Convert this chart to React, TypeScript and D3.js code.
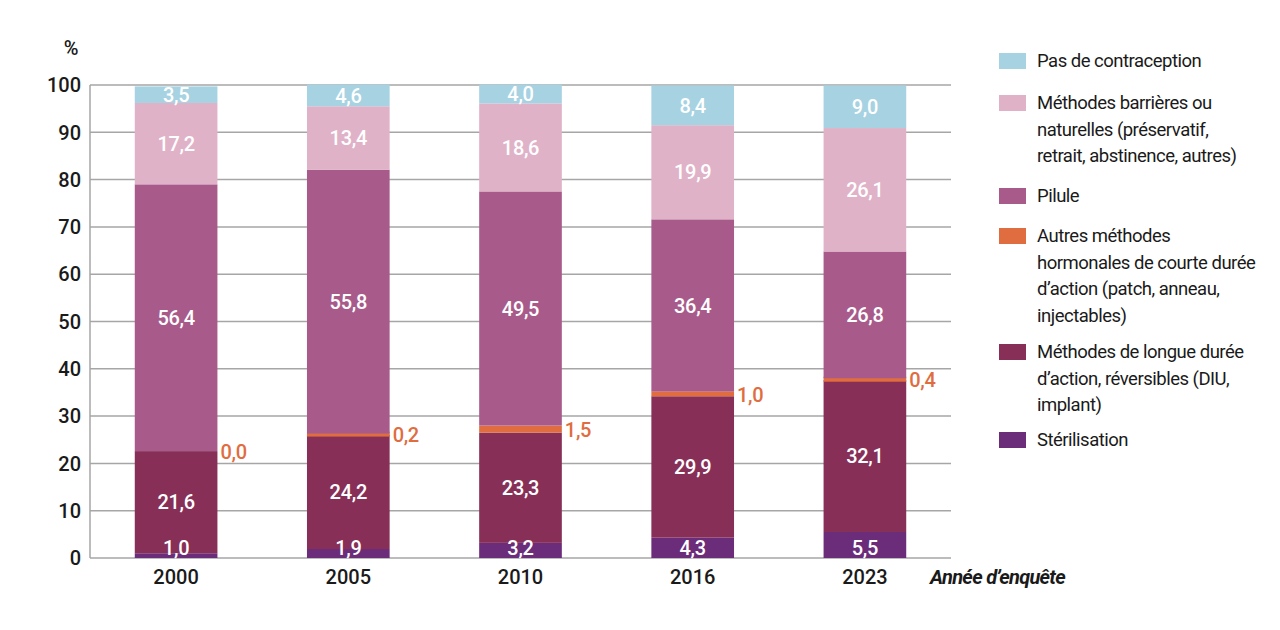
import { useRef, useEffect } from 'react';
import * as d3 from 'd3';

const YEARS = ['2000', '2005', '2010', '2016', '2023'];

// bottom to top
const STERILISATION = [1.0, 1.9, 3.2, 4.3, 5.5];
const LONGUE_DUREE = [21.6, 24.2, 23.3, 29.9, 32.1];
const AUTRES_HORMONALES = [0.0, 0.2, 1.5, 1.0, 0.4];
const PILULE = [56.4, 55.8, 49.5, 36.4, 26.8];
const BARRIERES = [17.2, 13.4, 18.6, 19.9, 26.1];
const PAS_CONTRACEPTION = [3.5, 4.6, 4.0, 8.4, 9.0];

const Y_TICKS = [0, 10, 20, 30, 40, 50, 60, 70, 80, 90, 100];

const SERIES = [
  { key: 'ster', label: ['Stérilisation'], values: STERILISATION, color: '#6b2c7a' },
  {
    key: 'larc',
    label: ['Méthodes de longue durée', 'd’action, réversibles (DIU,', 'implant)'],
    values: LONGUE_DUREE,
    color: '#872f56',
  },
  {
    key: 'autres',
    label: ['Autres méthodes', 'hormonales de courte durée', 'd’action (patch, anneau,', 'injectables)'],
    values: AUTRES_HORMONALES,
    color: '#e06d3f',
  },
  { key: 'pilule', label: ['Pilule'], values: PILULE, color: '#a85b8a' },
  {
    key: 'barr',
    label: ['Méthodes barrières ou', 'naturelles (préservatif,', 'retrait, abstinence, autres)'],
    values: BARRIERES,
    color: '#e0b2c8',
  },
  { key: 'pas', label: ['Pas de contraception'], values: PAS_CONTRACEPTION, color: '#a7d2e2' },
];

const FONT = 'Roboto, "Noto Sans", sans-serif';
const fmt = (v: number) => v.toFixed(1).replace('.', ',');

export default function App() {
  const svgRef = useRef<SVGSVGElement>(null);

  useEffect(() => {
    if (!svgRef.current) return;
    const svg = d3.select(svgRef.current);
    svg.selectAll('*').remove();

    const left = 90;
    const right = 951;
    const top = 85;
    const bottom = 558;

    const x = d3.scaleBand<string>().domain(YEARS).range([left, right]).paddingInner(0.52).paddingOuter(0.26);
    const y = d3.scaleLinear().domain([0, 100]).range([bottom, top]);

    // grid
    svg
      .append('g')
      .selectAll('line')
      .data(Y_TICKS)
      .join('line')
      .attr('x1', left)
      .attr('x2', right)
      .attr('y1', (d) => y(d))
      .attr('y2', (d) => y(d))
      .attr('stroke', '#a6a6a6')
      .attr('stroke-width', 1.5);

    svg
      .append('line')
      .attr('x1', left)
      .attr('x2', left)
      .attr('y1', y(100))
      .attr('y2', y(0))
      .attr('stroke', '#a6a6a6')
      .attr('stroke-width', 1.5);

    // y tick labels
    svg
      .append('g')
      .selectAll('text')
      .data(Y_TICKS)
      .join('text')
      .attr('x', 81)
      .attr('y', (d) => y(d))
      .attr('dy', '0.36em')
      .attr('text-anchor', 'end')
      .attr('font-family', FONT)
      .attr('font-size', 20)
      .attr('font-weight', 500)
      .attr('fill', '#1a1a1a')
      .text((d) => d);

    svg
      .append('text')
      .attr('x', 71)
      .attr('y', 55)
      .attr('text-anchor', 'middle')
      .attr('font-family', FONT)
      .attr('font-size', 20)
      .attr('font-weight', 500)
      .attr('fill', '#1a1a1a')
      .text('%');

    // stacked bars
    const table = YEARS.map((year, i) => {
      const row: Record<string, number | string> = { year };
      SERIES.forEach((s) => (row[s.key] = s.values[i]));
      return row;
    });
    const stack = d3.stack<Record<string, number | string>>().keys(SERIES.map((s) => s.key))(table as any);

    const bars = svg.append('g');
    const labels = svg.append('g');

    stack.forEach((layer, li) => {
      const s = SERIES[li];
      bars
        .append('g')
        .selectAll('rect')
        .data(layer)
        .join('rect')
        .attr('x', (d) => x(d.data.year as string)!)
        .attr('width', x.bandwidth())
        .attr('y', (d) => {
          const h = y(d[0]) - y(d[1]);
          // thin segments get a small visible thickness
          return s.key === 'autres' && h > 0 && h < 5 ? y((d[0] + d[1]) / 2) - 2.5 : y(d[1]);
        })
        .attr('height', (d) => {
          const h = y(d[0]) - y(d[1]);
          return s.key === 'autres' && h > 0 && h < 5 ? 5 : Math.max(0, h);
        })
        .attr('fill', s.color);

      labels
        .append('g')
        .selectAll('text')
        .data(layer)
        .join('text')
        .attr('font-family', FONT)
        .attr('font-size', 20)
        .attr('font-weight', 500)
        .attr('letter-spacing', -0.3)
        .attr('dy', '0.36em')
        .each(function (d, i) {
          const t = d3.select(this);
          const xb = x(d.data.year as string)!;
          if (s.key === 'autres') {
            t.attr('x', xb + x.bandwidth() + 3)
              .attr('y', y((d[0] + d[1]) / 2) + 1)
              .attr('text-anchor', 'start')
              .attr('fill', '#e06d3f');
          } else if (s.key === 'ster') {
            t.attr('x', xb + x.bandwidth() / 2)
              .attr('y', y(0) - 10)
              .attr('text-anchor', 'middle')
              .attr('fill', '#ffffff');
          } else {
            t.attr('x', xb + x.bandwidth() / 2)
              .attr('y', y((d[0] + d[1]) / 2))
              .attr('text-anchor', 'middle')
              .attr('fill', '#ffffff');
          }
          t.text(fmt(s.values[i]));
        });
    });

    // x labels
    svg
      .append('g')
      .selectAll('text')
      .data(YEARS)
      .join('text')
      .attr('x', (d) => x(d)! + x.bandwidth() / 2)
      .attr('y', 584)
      .attr('text-anchor', 'middle')
      .attr('font-family', FONT)
      .attr('font-size', 20)
      .attr('font-weight', 500)
      .attr('fill', '#1a1a1a')
      .text((d) => d);

    svg
      .append('text')
      .attr('x', 930)
      .attr('y', 584)
      .attr('font-family', FONT)
      .attr('font-size', 20)
      .attr('font-weight', 700)
      .attr('font-style', 'italic')
      .attr('letter-spacing', -0.7)
      .attr('fill', '#1a1a1a')
      .text('Année d’enquête');

    // legend, top to bottom
    const legendTops = [53, 95, 188, 228, 344, 432];
    const legend = svg.append('g');
    [...SERIES].reverse().forEach((s, i) => {
      const ly = legendTops[i];
      legend
        .append('rect')
        .attr('x', 999)
        .attr('y', ly)
        .attr('width', 27)
        .attr('height', 16)
        .attr('fill', s.color);
      const text = legend
        .append('text')
        .attr('font-family', FONT)
        .attr('font-size', 18.5)
        .attr('letter-spacing', -0.5)
        .attr('fill', '#1a1a1a');
      s.label.forEach((line, li) => {
        text
          .append('tspan')
          .attr('x', 1037)
          .attr('y', ly + 14 + li * 26.5)
          .text(line);
      });
    });
  }, []);

  return (
    <svg
      ref={svgRef}
      width={1280}
      height={630}
      style={{ display: 'block', position: 'absolute', left: 0, top: 0, background: '#ffffff' }}
    />
  );
}
